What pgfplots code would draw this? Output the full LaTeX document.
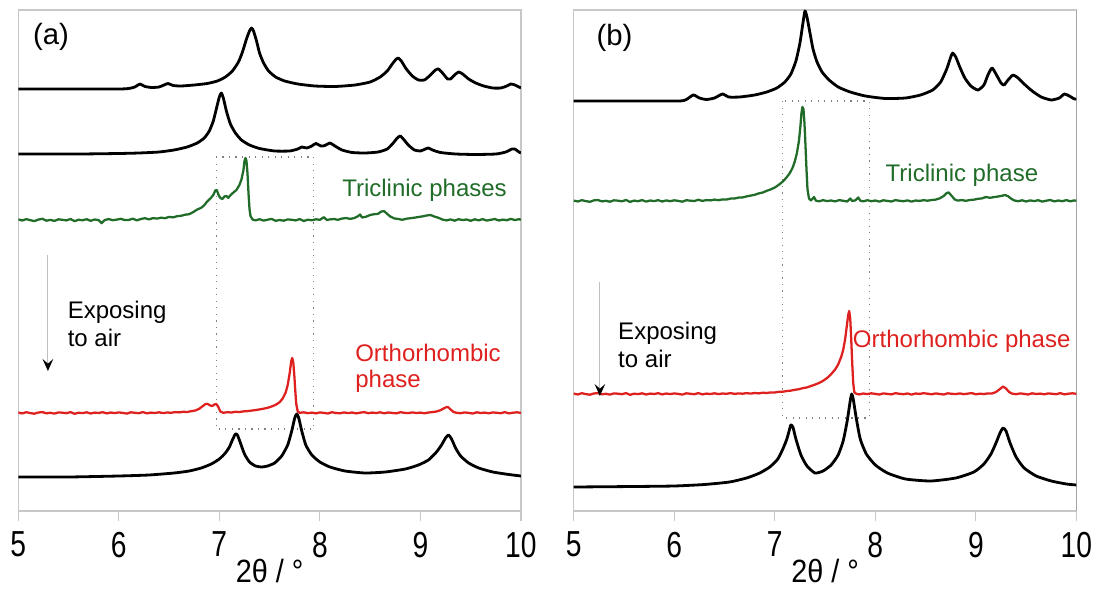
\documentclass[border=0pt]{standalone}
\usepackage{pgfplots}
\pgfplotsset{compat=1.18}
\usepackage{pgfplotstable}
\usepackage{fontspec}
\setmainfont{Liberation Sans}
\usetikzlibrary{arrows.meta}

\definecolor{tricgreen}{RGB}{32,108,40}
\definecolor{orthred}{RGB}{222,32,30}
\definecolor{framegray}{RGB}{200,200,200}
\newcommand{\annot}{\fontsize{18}{21}\selectfont}
\newcommand{\ticksz}{\fontsize{23}{27}\selectfont}

% ---------------- panel (a) ----------------
% simulated pattern, triclinic phase 1 (offset)
\pgfplotstableread{
tt I
5.00 422
5.50 422
6.00 422
6.10 422.5
6.16 424
6.21 427
6.26 424.5
6.33 423.5
6.40 424
6.45 426
6.49 427.5
6.54 425.5
6.62 425
6.75 426
6.88 427.5
6.98 430
7.06 434
7.13 440
7.19 449
7.23 459
7.27 472
7.30 480
7.32 483
7.34 480
7.37 470
7.40 458
7.44 448
7.49 440
7.56 434
7.65 430
7.78 427
7.95 425
8.15 424.5
8.35 426
8.50 429
8.60 434
8.67 440
8.72 447
8.76 452
8.78 453
8.81 450
8.86 442
8.92 435
8.98 431
9.04 431
9.10 436
9.15 441
9.18 442
9.22 438
9.27 432
9.30 432
9.34 436
9.38 439
9.42 437
9.48 432
9.55 428
9.63 425
9.72 423
9.80 423
9.86 425
9.90 427
9.94 426
9.98 424
10.00 423
}\simTopA

% simulated pattern, triclinic phase 2 (offset)
\pgfplotstableread{
tt I
5.00 357
5.60 357
6.00 357.5
6.20 358
6.40 359
6.55 361
6.68 364
6.78 368
6.85 373
6.90 380
6.94 390
6.97 402
7.00 414
7.02 418
7.04 413
7.07 400
7.11 387
7.16 378
7.22 371
7.30 366
7.40 362.5
7.55 360
7.70 360
7.78 362
7.82 364
7.87 363
7.92 365
7.96 367.5
8.01 365
8.05 365.5
8.10 368
8.15 365
8.22 361
8.32 358.5
8.45 358
8.58 359
8.67 362
8.73 368
8.77 373
8.80 375
8.83 372
8.88 366
8.94 361
9.00 360
9.05 362
9.08 363
9.12 361
9.20 358.5
9.35 357
9.55 356.5
9.75 357
9.85 359
9.91 362
9.94 362
9.98 359
10.00 358
}\simMidA

% measured pattern, triclinic
\pgfplotstableread{
tt I
5.00 291.6
5.04 290.5
5.08 291.9
5.12 290.8
5.16 289.9
5.20 291.4
5.24 292.2
5.28 290.3
5.32 291.1
5.36 290.1
5.40 291.7
5.44 291.2
5.48 290.6
5.52 292.0
5.56 289.8
5.60 291.3
5.64 290.7
5.68 291.8
5.72 290.2
5.76 291.5
5.80 290.9
5.83 287.8
5.86 291.0
5.90 291.9
5.94 290.8
5.98 291.4
6.02 292.2
6.06 290.9
6.10 291.1
6.14 292.3
6.18 290.6
6.22 292.0
6.26 292.8
6.30 291.6
6.34 292.9
6.38 292.4
6.42 293.3
6.46 292.8
6.50 294.1
6.54 293.6
6.58 294.8
6.62 295.2
6.66 296.3
6.70 296.8
6.74 298.9
6.78 301.5
6.82 303.2
6.85 305.8
6.88 309.6
6.91 312.4
6.94 316.0
6.96 320.5
6.975 321.0
6.99 316.5
7.01 313.0
7.03 312.0
7.05 314.5
7.07 315.0
7.09 313.2
7.11 315.8
7.14 318.5
7.17 321.0
7.20 326.0
7.22 331.5
7.24 341.0
7.25 350.0
7.26 353.0
7.27 350.0
7.28 338.0
7.29 318.0
7.30 302.0
7.31 295.0
7.33 291.5
7.36 290.6
7.40 291.8
7.44 290.4
7.48 291.3
7.52 292.1
7.56 290.2
7.60 291.0
7.64 290.3
7.68 291.6
7.72 291.2
7.76 290.6
7.80 291.9
7.84 290.0
7.88 291.3
7.92 290.7
7.96 291.7
8.00 291.2
8.04 293.8
8.07 291.0
8.10 291.6
8.14 292.0
8.18 291.2
8.22 292.4
8.26 293.0
8.30 292.1
8.34 292.9
8.38 294.8
8.40 296.5
8.42 293.5
8.46 294.3
8.50 296.0
8.54 296.8
8.58 297.2
8.61 299.5
8.64 299.8
8.67 297.0
8.70 294.5
8.74 292.6
8.78 292.0
8.82 291.2
8.86 292.3
8.90 292.8
8.94 293.3
8.98 294.0
9.02 294.6
9.06 295.5
9.10 296.0
9.14 294.4
9.18 293.2
9.22 291.4
9.26 290.6
9.30 291.6
9.34 290.3
9.38 291.8
9.42 290.9
9.46 291.5
9.50 290.2
9.54 291.7
9.58 290.6
9.62 291.9
9.66 290.4
9.70 291.2
9.74 292.0
9.78 290.5
9.82 291.4
9.86 290.8
9.90 292.1
9.94 290.9
9.98 291.8
10.00 291.3
}\expTricA

% measured pattern after air exposure, orthorhombic
\pgfplotstableread{
tt I
5.00 98.4
5.04 97.6
5.08 98.8
5.12 97.9
5.16 97.3
5.20 98.5
5.24 98.9
5.28 97.7
5.32 98.2
5.36 97.4
5.40 98.6
5.44 98.3
5.48 97.8
5.52 98.9
5.56 97.2
5.60 98.3
5.64 97.9
5.68 98.7
5.72 97.5
5.76 98.4
5.80 98.0
5.84 98.8
5.88 97.6
5.92 98.5
5.96 97.9
6.00 98.6
6.04 98.1
6.08 97.4
6.12 98.7
6.16 98.2
6.20 97.8
6.24 98.9
6.28 97.6
6.32 98.4
6.36 98.0
6.40 98.7
6.44 97.9
6.48 98.5
6.52 98.2
6.56 98.9
6.60 98.6
6.64 99.2
6.68 99.0
6.72 99.8
6.76 100.5
6.80 102.2
6.83 104.5
6.86 106.8
6.88 107.2
6.91 105.5
6.93 105.0
6.95 106.5
6.97 107.0
6.99 104.0
7.01 99.5
7.04 98.2
7.08 98.8
7.12 98.5
7.16 99.2
7.20 99.0
7.24 99.6
7.28 99.9
7.32 100.4
7.36 100.9
7.40 101.6
7.44 102.3
7.48 103.2
7.52 104.5
7.56 106.2
7.60 108.8
7.63 112.5
7.66 118.5
7.68 126.0
7.70 138.0
7.715 150.0
7.725 153.0
7.735 149.0
7.745 137.0
7.755 121.0
7.765 107.0
7.78 99.5
7.80 98.2
7.84 98.7
7.88 97.8
7.92 98.4
7.96 97.6
8.00 98.6
8.04 98.1
8.08 97.5
8.12 98.8
8.16 98.0
8.20 97.7
8.24 98.6
8.28 97.9
8.32 98.5
8.36 97.6
8.40 98.3
8.44 98.9
8.48 97.8
8.52 98.4
8.56 98.0
8.60 98.7
8.64 97.7
8.68 98.5
8.72 98.1
8.76 97.6
8.80 98.8
8.84 98.2
8.88 97.9
8.92 98.6
8.96 98.0
9.00 98.4
9.04 97.7
9.08 98.5
9.12 98.9
9.16 99.5
9.20 100.8
9.23 102.5
9.26 104.0
9.28 103.6
9.30 101.5
9.33 99.0
9.36 98.2
9.40 97.8
9.44 98.6
9.48 98.1
9.52 97.5
9.56 98.7
9.60 98.0
9.64 98.4
9.68 97.7
9.72 98.6
9.76 98.2
9.80 97.8
9.84 98.9
9.88 97.6
9.92 98.3
9.96 98.7
10.00 98.1
}\expOrthA

% simulated pattern, orthorhombic phase
\pgfplotstableread{
tt I
5.00 34
5.50 34
6.00 35
6.30 36
6.55 38
6.70 40
6.82 43
6.92 47
7.00 52
7.06 58
7.10 64
7.13 71
7.16 77
7.18 76
7.21 68
7.25 57
7.30 49
7.36 45
7.42 44
7.48 45
7.55 48
7.62 55
7.68 66
7.72 80
7.75 93
7.77 97
7.79 93
7.82 80
7.86 66
7.92 56
8.00 49
8.10 44
8.25 40
8.45 38
8.65 39
8.85 42
8.98 46
9.08 51
9.16 59
9.21 66
9.25 73
9.28 76
9.31 72
9.35 63
9.40 55
9.48 48
9.58 43
9.72 39
9.88 36.5
10.00 35
}\simOrthA

% ---------------- panel (b) ----------------
\pgfplotstableread{
tt I
5.00 410
5.60 410
6.05 410
6.12 411.5
6.19 416
6.25 413
6.32 411.5
6.40 413
6.48 417
6.54 414
6.65 414
6.80 416
6.92 419
7.02 423
7.10 429
7.16 437
7.21 450
7.25 468
7.28 488
7.30 500
7.32 494
7.35 478
7.38 462
7.42 449
7.47 439
7.54 431
7.63 424
7.75 419
7.90 415
8.10 412.5
8.30 413
8.45 416
8.57 421
8.65 429
8.71 442
8.75 454
8.77 458
8.80 454
8.84 444
8.89 433
8.95 425
9.02 421
9.08 426
9.12 436
9.16 443
9.20 437
9.25 428
9.28 426
9.32 431
9.37 436
9.42 433
9.48 427
9.56 420
9.65 414
9.75 411
9.83 413
9.88 417
9.93 415
9.98 412
10.00 412
}\simTopB

\pgfplotstableread{
tt I
5.00 310.4
5.04 309.5
5.08 310.8
5.12 309.9
5.16 309.2
5.20 310.6
5.24 311.0
5.28 309.6
5.32 310.2
5.36 309.3
5.40 310.7
5.44 310.3
5.48 309.7
5.52 311.0
5.56 309.1
5.60 310.4
5.64 309.8
5.68 310.9
5.72 309.4
5.76 310.5
5.80 309.9
5.84 310.8
5.88 309.5
5.92 310.6
5.96 309.8
6.00 310.7
6.04 310.1
6.08 309.3
6.12 310.8
6.16 310.3
6.20 310.0
6.24 311.2
6.28 310.1
6.32 310.9
6.36 310.6
6.40 311.4
6.44 310.8
6.48 311.6
6.52 311.5
6.56 312.4
6.60 312.5
6.64 313.4
6.68 313.6
6.72 314.6
6.76 315.4
6.80 316.2
6.84 317.6
6.88 318.5
6.92 320.2
6.96 321.6
7.00 323.5
7.03 325.5
7.06 327.8
7.09 330.5
7.12 334.0
7.15 338.0
7.18 344.0
7.20 350.0
7.22 358.0
7.24 370.0
7.255 385.0
7.265 398.0
7.275 404.0
7.285 402.0
7.295 388.0
7.305 366.0
7.315 342.0
7.325 322.0
7.34 312.5
7.36 310.6
7.39 314.0
7.41 310.2
7.44 309.7
7.48 310.8
7.52 309.9
7.56 310.5
7.60 309.6
7.64 310.9
7.68 310.2
7.72 309.5
7.75 312.5
7.77 310.0
7.80 310.6
7.83 313.5
7.85 310.4
7.88 309.6
7.92 310.8
7.96 309.8
8.00 310.5
8.04 309.4
8.08 310.7
8.12 310.1
8.16 309.5
8.20 310.9
8.24 310.2
8.28 309.8
8.32 310.6
8.36 309.4
8.40 310.5
8.44 310.1
8.48 310.8
8.52 310.3
8.56 311.0
8.60 311.4
8.64 312.6
8.68 315.0
8.71 318.0
8.73 318.5
8.76 315.0
8.79 311.5
8.82 310.4
8.86 310.9
8.90 310.2
8.94 311.0
8.98 311.3
9.02 312.2
9.06 312.6
9.10 314.0
9.14 313.2
9.18 313.9
9.22 314.5
9.26 315.2
9.29 316.0
9.32 314.8
9.35 312.4
9.38 310.6
9.42 309.8
9.46 310.7
9.50 309.5
9.54 310.6
9.58 309.9
9.62 310.8
9.66 309.4
9.70 310.3
9.74 311.0
9.78 309.6
9.82 310.5
9.86 309.8
9.90 310.9
9.94 309.7
9.98 310.6
10.00 310.2
}\expTricB

\pgfplotstableread{
tt I
5.00 117.4
5.04 116.5
5.08 117.8
5.12 116.9
5.16 116.3
5.20 117.5
5.24 117.9
5.28 116.7
5.32 117.2
5.36 116.4
5.40 117.6
5.44 117.3
5.48 116.8
5.52 117.9
5.56 116.2
5.60 117.3
5.64 116.9
5.68 117.7
5.72 116.5
5.76 117.4
5.80 117.0
5.84 117.8
5.88 116.6
5.92 117.5
5.96 116.9
6.00 117.6
6.04 117.1
6.08 116.4
6.12 117.7
6.16 117.2
6.20 116.8
6.24 117.9
6.28 116.6
6.32 117.4
6.36 117.0
6.40 117.7
6.44 116.9
6.48 117.5
6.52 117.2
6.56 117.9
6.60 117.1
6.64 117.6
6.68 117.3
6.72 117.9
6.76 117.4
6.80 118.0
6.84 117.6
6.88 118.3
6.92 118.0
6.96 118.6
7.00 118.5
7.04 119.2
7.08 119.3
7.12 120.0
7.16 120.4
7.20 121.2
7.24 121.8
7.28 122.9
7.32 123.6
7.36 125.0
7.40 126.4
7.44 128.0
7.48 130.2
7.52 133.0
7.56 136.8
7.60 141.5
7.63 146.5
7.66 154.0
7.68 161.0
7.70 172.0
7.715 184.0
7.73 196.0
7.74 200.0
7.75 193.0
7.76 172.0
7.77 148.0
7.78 128.0
7.79 119.0
7.81 117.2
7.84 116.6
7.88 117.5
7.92 116.9
7.96 117.7
8.00 117.1
8.04 116.5
8.08 117.6
8.12 117.1
8.16 116.6
8.20 117.8
8.24 117.2
8.28 116.8
8.32 117.5
8.36 116.4
8.40 117.5
8.44 117.1
8.48 117.8
8.52 117.3
8.56 116.7
8.60 117.6
8.64 117.0
8.68 116.5
8.72 117.7
8.76 117.2
8.80 116.9
8.84 117.6
8.88 116.8
8.92 117.4
8.96 117.9
9.00 116.7
9.04 117.3
9.08 117.0
9.12 117.6
9.16 117.5
9.20 119.0
9.24 122.0
9.27 124.5
9.30 122.5
9.33 119.0
9.36 117.4
9.40 116.8
9.44 117.6
9.48 117.1
9.52 116.5
9.56 117.7
9.60 117.0
9.64 117.4
9.68 116.7
9.72 117.6
9.76 117.2
9.80 116.8
9.84 117.9
9.88 116.6
9.92 117.3
9.96 117.7
10.00 117.2
}\expOrthB

\pgfplotstableread{
tt I
5.00 24
5.60 24.5
6.00 25
6.30 26.5
6.55 29
6.72 33
6.85 38
6.95 44
7.03 52
7.08 62
7.12 72
7.15 83
7.16 86
7.18 84
7.21 72
7.26 56
7.32 45
7.40 38
7.48 40
7.56 46
7.63 56
7.68 70
7.72 90
7.75 110
7.765 117
7.78 112
7.81 93
7.85 72
7.91 57
8.00 46
8.12 38
8.30 32
8.55 30
8.80 33
8.98 39
9.08 47
9.15 57
9.20 68
9.24 78
9.27 83
9.30 80
9.34 68
9.40 54
9.48 43
9.60 35
9.75 30
9.90 27
10.00 26
}\simOrthB

\tikzset{
  guide/.style={gray, line width=0.8pt, dash pattern=on 0.9pt off 4pt},
  airarrow/.style={black!25, line width=0.8pt, -{Stealth[black, length=9pt, width=8pt, inset=3.5pt]}},
}
% tall, slightly narrow axis numerals
\newcommand{\tallnum}[1]{\scalebox{0.92}[1.18]{#1}}
\pgfplotsset{
  xrd/.style={
    scale only axis, width=377pt, height=375.75pt,
    anchor=south west,
    xmin=5, xmax=10, ymin=0, ymax=501,
    xtick={5,6,7,8,9,10}, ytick=\empty,
    xtick pos=left, tick align=outside, major tick length=7.5pt,
    axis line style={draw=framegray, line width=0.9pt},
    tick style={draw=framegray, line width=0.9pt},
    xticklabel={\tallnum{\pgfmathprintnumber[assume math mode=true]{\tick}}},
    xticklabel style={font=\ticksz, anchor=north, inner sep=0pt, yshift=-8pt},
    xlabel={\scalebox{0.94}[1.05]{2θ / °}},
    xlabel style={font=\ticksz, at={(axis description cs:0.5,0)}, anchor=north, inner sep=0pt, yshift=-36pt},
  },
  simline/.style={black, line width=2.1pt, smooth, tension=0.35, line join=round},
  expgreen/.style={tricgreen, line width=1.7pt, line join=round},
  expred/.style={orthred, line width=1.7pt, line join=round},
}

\begin{document}
\begin{tikzpicture}
\useasboundingbox (0,0) rectangle (822pt,442.5pt);

% (a)
\begin{axis}[xrd, at={(13.7pt,59.25pt)}]
  \draw[guide] (axis cs:6.97,354) rectangle (axis cs:7.94,82);
  \addplot[simline] table[x=tt,y=I] {\simTopA};
  \addplot[simline] table[x=tt,y=I] {\simMidA};
  \addplot[expgreen] table[x=tt,y=I] {\expTricA};
  \addplot[expred] table[x=tt,y=I] {\expOrthA};
  \addplot[simline] table[x=tt,y=I] {\simOrthA};
  \node[anchor=west, font=\fontsize{22}{26}\selectfont] at (axis cs:5.10,474) {(a)};
  \node[anchor=base west, font=\annot, text=tricgreen, inner sep=0pt] at (axis cs:8.22,314) {Triclinic phases};
  \node[anchor=base west, font=\annot, inner sep=0pt] at (axis cs:5.49,193) {Exposing};
  \node[anchor=base west, font=\annot, inner sep=0pt] at (axis cs:5.49,165) {to air};
  \node[anchor=base west, font=\annot, text=orthred, inner sep=0pt] at (axis cs:8.35,150) {Orthorhombic};
  \node[anchor=base west, font=\annot, text=orthred, inner sep=0pt] at (axis cs:8.35,124) {phase};
  \draw[airarrow] (axis cs:5.295,256) -- (axis cs:5.295,140);
\end{axis}

% (b)
\begin{axis}[xrd, at={(430.3pt,59.25pt)}]
  \draw[guide] (axis cs:7.08,410) rectangle (axis cs:7.94,93);
  \addplot[simline] table[x=tt,y=I] {\simTopB};
  \addplot[expgreen] table[x=tt,y=I] {\expTricB};
  \addplot[expred] table[x=tt,y=I] {\expOrthB};
  \addplot[simline] table[x=tt,y=I] {\simOrthB};
  \draw[black!60, line width=0.9pt] (rel axis cs:1,0) -- (rel axis cs:1,1);
  \node[anchor=west, font=\fontsize{22}{26}\selectfont] at (axis cs:5.18,473) {(b)};
  \node[anchor=base west, font=\annot, text=tricgreen, inner sep=0pt] at (axis cs:8.10,329) {Triclinic phase};
  \node[anchor=base west, font=\annot, inner sep=0pt] at (axis cs:5.44,172) {Exposing};
  \node[anchor=base west, font=\annot, inner sep=0pt] at (axis cs:5.44,144) {to air};
  \node[anchor=base west, font=\annot, text=orthred, inner sep=0pt] at (axis cs:7.775,164) {Orthorhombic phase};
  \draw[airarrow] (axis cs:5.26,229) -- (axis cs:5.26,115);
\end{axis}
\end{tikzpicture}
\end{document}
